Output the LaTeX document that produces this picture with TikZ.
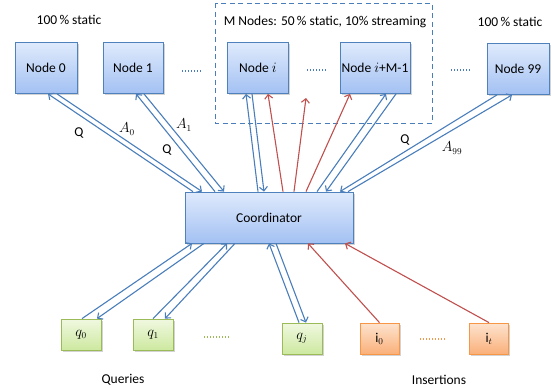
\documentclass[tikz,border=0pt]{standalone}
\usepackage{fontspec}
\setmainfont{Carlito}
\usetikzlibrary{arrows.meta,shadows}
\definecolor{bline}{HTML}{4A7EBB}
\definecolor{rline}{HTML}{C0504D}
\definecolor{btop}{HTML}{DFEAFC}
\definecolor{bbot}{HTML}{A3C1F3}
\definecolor{bborder}{HTML}{4F81BD}
\definecolor{gtop}{HTML}{F0F8E0}
\definecolor{gbot}{HTML}{CDE9A0}
\definecolor{gborder}{HTML}{9BBB59}
\definecolor{otop}{HTML}{FDE3CE}
\definecolor{obot}{HTML}{FAB07A}
\definecolor{oborder}{HTML}{F79646}
\tikzset{
  shade/.style={drop shadow={shadow xshift=1.5pt,shadow yshift=-1.5pt,opacity=0.35}},
  nodebox/.style={shade,draw=bborder,line width=0.8pt,top color=btop,bottom color=bbot,
    minimum height=51pt,inner sep=0pt},
  qbox/.style={shade,draw=gborder,line width=0.8pt,top color=gtop,bottom color=gbot,
    minimum width=40pt,minimum height=31pt,inner sep=0pt},
  ibox/.style={shade,draw=oborder,line width=0.8pt,top color=otop,bottom color=obot,
    minimum width=39pt,minimum height=31pt,inner sep=0pt},
  barrow/.style={draw=bline,line width=1.1pt,-{Straight Barb[length=4pt,width=8pt]}},
  rarrow/.style={draw=rline,line width=1.1pt,-{Straight Barb[length=4pt,width=8pt]}},
  dotline/.style={line width=1.4pt,dash pattern=on 1.4pt off 1.6pt},
  lbl/.style={inner sep=0pt}
}
\begin{document}
\begin{tikzpicture}[x=1pt,y=-1pt,font=\fontsize{13.5}{16}\selectfont]
\useasboundingbox (0,0) rectangle (552,388);
% dashed group box
\draw[bline,line width=1pt,dash pattern=on 5pt off 3.5pt] (215,3) rectangle (432,123);
\node[lbl] (mtxt) at (325,22) {M Nodes: 50\,\% static, 10\% streaming};
\node[lbl] (lstat) at (69,20) {100\,\% static};
\node[lbl] (rstat) at (510,22) {100\,\% static};
% top nodes
\node[nodebox,minimum width=62pt] (n0) at (46,68) {Node 0};
\node[nodebox,minimum width=60pt] (n1) at (133,68) {Node 1};
\node[nodebox,minimum width=61pt] (ni) at (258,68) {Node $i$};
\node[nodebox,minimum width=70pt] (nm) at (375,68) {Node $i$+M-1};
\node[nodebox,minimum width=62pt] (n99) at (518,69) {Node 99};
% coordinator
\node[nodebox,minimum width=168pt] (co) at (269,217.5) {Coordinator};
% bottom boxes
\node[qbox] (q0) at (81,334.5) {$q_0$};
\node[qbox] (q1) at (153,334.5) {$q_1$};
\node[qbox] (qj) at (302,338.5) {$q_j$};
\node[ibox] (i0) at (379.5,338.5) {$\mathrm{i}_0$};
\node[ibox] (it) at (489,338.5) {$\mathrm{i}_t$};
\node[lbl] (qlab) at (123,380) {Queries};
\node[lbl] (ilab) at (439,380) {Insertions};
% dotted ellipses
\draw[dotline,bline] (182,71) -- (202,71);
\draw[dotline,bline] (307,70) -- (327,70);
\draw[dotline,bline] (451,70) -- (471,70);
\draw[dotline,gborder] (204,337) -- (230,337);
\draw[dotline,oborder] (420,339) -- (446,339);
% node 0
\draw[barrow] ([xshift=-76pt]co.north) -- ([xshift=2pt]n0.south);
\draw[barrow] ([xshift=11pt]n0.south) -- ([xshift=-67pt]co.north);
% node 1
\draw[barrow] ([xshift=-54pt]co.north) -- ([xshift=3pt]n1.south);
\draw[barrow] ([xshift=11pt]n1.south) -- ([xshift=-45pt]co.north);
% node i
\draw[barrow] ([xshift=-11pt]co.north) -- ([xshift=-12pt]ni.south);
\draw[barrow] ([xshift=-6pt]ni.south) -- ([xshift=-5pt]co.north);
% red streaming
\coordinate (free) at (306,98);
\draw[rarrow] ([xshift=14pt]co.north) -- ([xshift=10pt]ni.south);
\draw[rarrow] ([xshift=25pt]co.north) -- (free);
\draw[rarrow] ([xshift=37pt]co.north) -- ([xshift=-25pt]nm.south);
% node i+M-1
\draw[barrow] ([xshift=48pt]co.north) -- ([xshift=11pt]nm.south);
\draw[barrow] ([xshift=21pt]nm.south) -- ([xshift=57pt]co.north);
% node 99
\draw[barrow] ([xshift=-21pt]n99.south) -- ([xshift=71pt]co.north);
\draw[barrow] ([xshift=79pt]co.north) -- ([xshift=-6pt]n99.south);
% labels
\node[lbl] (lq0) at (79,133) {Q};
\node[lbl] (la0) at (127,129) {$A_0$};
\node[lbl] (la1) at (184,125) {$A_1$};
\node[lbl] (lq1) at (167,150) {Q};
\node[lbl] (lq99) at (405,140) {Q};
\node[lbl] (la99) at (452,148) {$A_{99}$};
% queries
\draw[barrow] ([xshift=1pt]q0.north) -- ([xshift=-77pt]co.south);
\draw[barrow] ([xshift=-65pt]co.south) -- ([xshift=16pt]q0.north);
\draw[barrow] (q1.north) -- ([xshift=-42pt]co.south);
\draw[barrow] ([xshift=-34pt]co.south) -- ([xshift=12pt]q1.north);
\draw[barrow] ([xshift=-3pt]qj.north) -- ([xshift=0pt]co.south);
\draw[barrow] ([xshift=7pt]co.south) -- ([xshift=4pt]qj.north);
% insertions
\draw[rarrow] (i0.north) -- ([xshift=39pt]co.south);
\draw[rarrow] (it.north) -- ([xshift=76pt]co.south);
\end{tikzpicture}
\end{document}
